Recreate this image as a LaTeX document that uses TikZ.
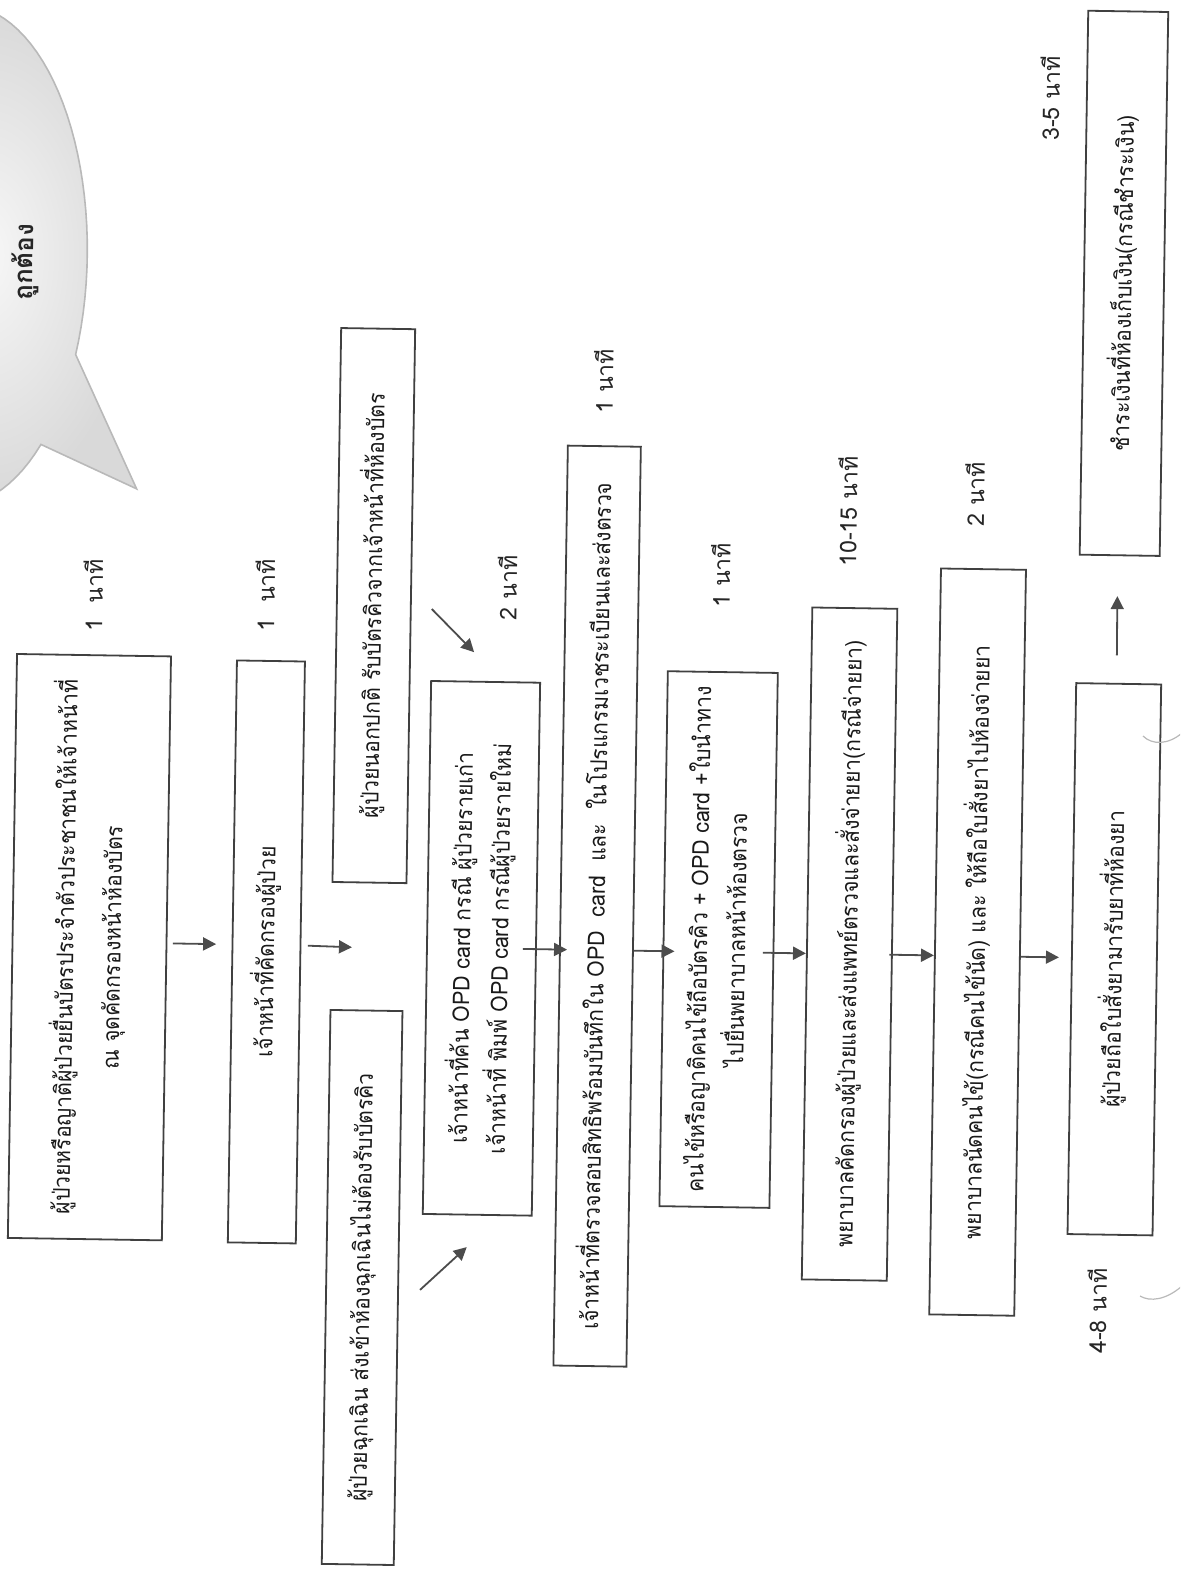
\documentclass[tikz,border=0pt]{standalone}
\usepackage{graphicx}
\usepackage{fontspec}
\newfontfamily\thaifont[Script=Thai, FakeStretch=0.92]{Loma}
\newfontfamily\thailabel[Script=Thai]{Loma}
\usetikzlibrary{arrows.meta}
\newcommand{\vtext}[1]{\rotatebox{90}{\begin{tabular}{@{}c@{}}#1\end{tabular}}}

\begin{document}
\begin{tikzpicture}[x=0.5pt, y=-0.5pt,
    flow/.style={draw=black!75, line width=0.9pt, inner sep=0pt,
      font=\thaifont\fontsize{11.5}{19}\selectfont, text=black!90},
    tlabel/.style={rotate=90, font=\thailabel\fontsize{11.5}{14}\selectfont, text=black!85},
    arr/.style={-{Triangle[length=6.5pt, width=6.5pt]}, draw=black!70, fill=black!70, line width=0.9pt}]
  \useasboundingbox (0,0) rectangle (1180,1574);
  \clip (0,0) rectangle (1180,1574);
  \begin{scope}[rotate around={-0.9:(590,787)}, transform shape]
    \shadedraw[inner color=gray!6, outer color=gray!30, draw=gray!55, line width=0.8pt]
      plot[domain=48.8:383, samples=100] ({-48+127*cos(\x)},{265+250*sin(\x)}) -- (132,496) -- cycle;
    \node[rotate=90, font=\thailabel\bfseries\fontsize{13}{15}\selectfont, text=black!85] (ok) at (17,271) {ถูกต้อง};

    \node[flow, minimum width=77pt, minimum height=292pt] (b1) at (92,955)
      {\vtext{ผู้ป่วยหรือญาติผู้ป่วยยื่นบัตรประจำตัวประชาชนให้เจ้าหน้าที่\\[4.5pt] ณ จุดคัดกรองหน้าห้องบัตร}};
    \node[flow, minimum width=34pt, minimum height=291pt] (b2) at (269,957)
      {\vtext{เจ้าหน้าที่คัดกรองผู้ป่วย}};
    \node[flow, minimum width=37pt, minimum height=277pt] (b3) at (371,609)
      {\vtext{ผู้ป่วยนอกปกติ รับบัตรคิวจากเจ้าหน้าที่ห้องบัตร}};
    \node[flow, minimum width=36pt, minimum height=277pt] (b3e) at (370,1291)
      {\vtext{ผู้ป่วยฉุกเฉิน ส่งเข้าห้องฉุกเฉินไม่ต้องรับบัตรคิว}};
    \node[flow, minimum width=54.5pt, minimum height=266.5pt] (b4) at (484,950)
      {\vtext{เจ้าหน้าที่ค้น OPD card กรณี ผู้ป่วยรายเก่า\\ เจ้าหน้าที่ พิมพ์ OPD card กรณีผู้ป่วยรายใหม่}};
    \node[flow, minimum width=36.5pt, minimum height=460pt] (b5) at (599,906)
      {\vtext{เจ้าหน้าที่ตรวจสอบสิทธิพร้อมบันทึกใน OPD\ \ card\ \ และ\ \ ในโปรแกรมเวชระเบียนและส่งตรวจ}};
    \node[flow, minimum width=55pt, minimum height=267.5pt] (b6) at (721,937.5)
      {\vtext{คนไข้หรือญาติคนไข้ถือบัตรคิว + OPD card +ใบนำทาง\\ ไปยื่นพยาบาลหน้าห้องตรวจ}};
    \node[flow, minimum width=42.5pt, minimum height=336pt] (b7) at (852,940)
      {\vtext{พยาบาลคัดกรองผู้ป่วยและส่งแพทย์ตรวจและสั่งจ่ายยา(กรณีจ่ายยา)}};
    \node[flow, minimum width=42.5pt, minimum height=373pt] (b8) at (980,936)
      {\vtext{พยาบาลนัดคนไข้(กรณีคนไข้นัด) และ ให้ถือใบสั่งยาไปห้องจ่ายยา}};
    \node[flow, minimum width=42.5pt, minimum height=275.5pt] (b9) at (1117,951)
      {\vtext{ผู้ป่วยถือใบสั่งยามารับยาที่ห้องยา}};
    \node[flow, minimum width=40pt, minimum height=272pt] (b10) at (1116,275)
      {\vtext{ชำระเงินที่ห้องเก็บเงิน(กรณีชำระเงิน)}};

    \node[tlabel] (t1) at (90,603) {1\ \ นาที};
    \node[tlabel] (t2) at (262,600) {1\ \ นาที};
    \node[tlabel] (t3) at (504,589) {2 นาที};
    \node[tlabel] (t4) at (597,381) {1 นาที};
    \node[tlabel] (t5) at (717,573) {1 นาที};
    \node[tlabel] (t6) at (843,507) {10-15 นาที};
    \node[tlabel] (t7) at (970,488) {2 นาที};
    \node[tlabel] (t8) at (1039,91) {3-5 นาที};
    \node[tlabel] (t9) at (1105,1303) {4-8 นาที};

    \coordinate (gap) at (354.5,951);
    \coordinate (d1a) at (429,611.5);
    \coordinate (d1b) at (472,654);
    \coordinate (d2a) at (428,1292.5);
    \coordinate (d2b) at (474,1249);

    \draw[arr, shorten <=2.75pt, shorten >=7.75pt] ([yshift=2.5pt]b1.east) to ([yshift=3.5pt]b2.west);
    \draw[arr, shorten <=3.25pt] ([yshift=3.5pt]b2.east) to (gap);
    \draw[arr] (d1a) to (d1b);
    \draw[arr] (d2a) to (d2b);
    \draw[arr, shorten <=-7pt, shorten >=-4pt] (b4.east) to ([yshift=-22pt]b5.west);
    \draw[arr, shorten >=-6pt] ([yshift=-22pt]b5.east) to ([yshift=-6.25pt]b6.west);
    \draw[arr, shorten <=-5.75pt] ([yshift=-6.25pt]b6.east) to ([yshift=-5pt]b7.west);
    \draw[arr, shorten <=-1.75pt] ([yshift=-5pt]b7.east) to ([yshift=-7pt]b8.west);
    \draw[arr, shorten >=6pt] ([yshift=-7pt]b8.east) to ([yshift=0.5pt]b9.west);
    \draw[arr, shorten <=13.75pt, shorten >=20pt] ([xshift=-1pt]b9.north) to ([xshift=-1pt]b10.south);
  \end{scope}
  \draw[gray!55, line width=0.6pt] (1143,736) .. controls (1152,745) and (1168,745) .. (1182,733);
  \draw[gray!55, line width=0.6pt] (1140,1296) .. controls (1150,1302) and (1166,1300) .. (1182,1286);
\end{tikzpicture}
\end{document}
